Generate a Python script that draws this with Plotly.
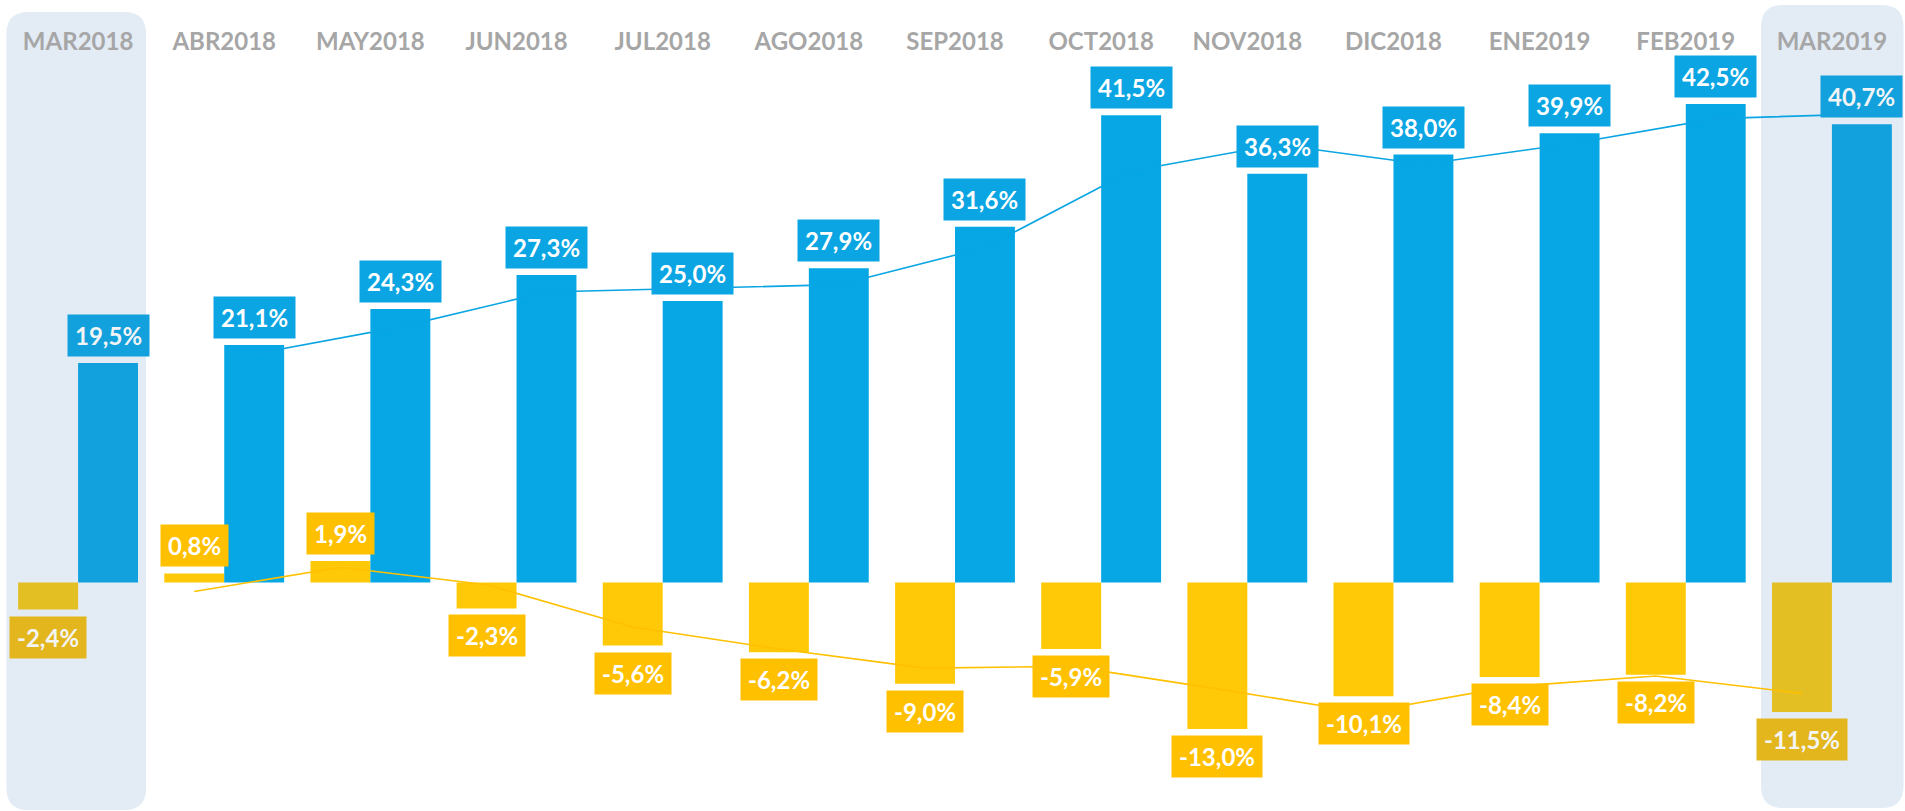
import plotly.graph_objects as go

months = ["MAR2018", "ABR2018", "MAY2018", "JUN2018", "JUL2018", "AGO2018", "SEP2018",
          "OCT2018", "NOV2018", "DIC2018", "ENE2019", "FEB2019", "MAR2019"]
blue_vals = [19.5, 21.1, 24.3, 27.3, 25.0, 27.9, 31.6, 41.5, 36.3, 38.0, 39.9, 42.5, 40.7]
yellow_vals = [-2.4, 0.8, 1.9, -2.3, -5.6, -6.2, -9.0, -5.9, -13.0, -10.1, -8.4, -8.2, -11.5]
# trend lines (2-period moving average), from ABR2018 to MAR2019
blue_trend = [20.3, 22.7, 25.8, 26.15, 26.45, 29.75, 36.55, 38.9, 37.15, 38.95, 41.2, 41.6]
yellow_trend = [-0.8, 1.35, -0.2, -3.95, -5.9, -7.6, -7.45, -9.45, -11.55, -9.25, -8.3, -9.85]
highlight = [0, 12]

W, H = 1905, 811
ML, MR = 5, 0
PX_PER = 11.26
BASE = 582.5
yr = [-(H - BASE) / PX_PER, BASE / PX_PER]

n = len(months)
idx = list(range(n))
BARGAP = 0.18
half = (1 - BARGAP) / 4  # offset of each bar center from category center

BLUE = "#06A7E4"
BLUE_H = "#12A1DC"
BLUE_LBL = "#0AA5E2"
YEL = "#FFC908"
YEL_H = "#E3BF24"
YEL_LBL = "#FFC000"
YEL_LBL_H = "#E4B61E"
BG_H = "#E3EBF5"

blue_colors = [BLUE_H if i in highlight else BLUE for i in idx]
yel_colors = [YEL_H if i in highlight else YEL for i in idx]

fig = go.Figure()
fig.add_trace(go.Bar(x=idx, y=yellow_vals, marker=dict(color=yel_colors, line=dict(width=0)),
                     name="b", showlegend=False, hoverinfo="skip"))
fig.add_trace(go.Bar(x=idx, y=blue_vals, marker=dict(color=blue_colors, line=dict(width=0)),
                     name="a", showlegend=False, hoverinfo="skip"))
fig.add_trace(go.Scatter(x=[i + half for i in idx[1:]], y=blue_trend, mode="lines",
                         line=dict(color=BLUE_LBL, width=1.6), showlegend=False, hoverinfo="skip"))
fig.add_trace(go.Scatter(x=[i - half for i in idx[1:]], y=yellow_trend, mode="lines",
                         line=dict(color=YEL_LBL, width=1.6), showlegend=False, hoverinfo="skip"))


def fmt(v):
    return f"{v:.1f}%".replace(".", ",")


annots = []
for i in idx:
    for v, xo, col in ((blue_vals[i], half, BLUE_H if i in highlight else BLUE_LBL),
                       (yellow_vals[i], -half, YEL_LBL_H if i in highlight else YEL_LBL)):
        pos = v >= 0
        annots.append(dict(
            x=i + xo, y=v, xref="x", yref="y", text=fmt(v), showarrow=False,
            xanchor="center", yanchor="bottom" if pos else "top",
            yshift=6 if pos else -6,
            bgcolor=col, borderpad=7, height=27,
            font=dict(family="Lato", size=24, color="#F2F4F5" if i in highlight else "white", weight=700),
        ))


def rrect(x0, x1, y0, y1, rx, ry):
    return (f"M {x0+rx},{y1} L {x1-rx},{y1} Q {x1},{y1} {x1},{y1-ry} "
            f"L {x1},{y0+ry} Q {x1},{y0} {x1-rx},{y0} L {x0+rx},{y0} "
            f"Q {x0},{y0} {x0},{y0+ry} L {x0},{y1-ry} Q {x0},{y1} {x0+rx},{y1} Z")


step = (W - ML - MR) / n
rx = 22 / step
ry = 22 / H
shapes = [
    dict(type="path", xref="x", yref="paper", layer="below", line=dict(width=0), fillcolor=BG_H,
         path=rrect(-0.49, 0.465, 1 - 810 / H, 1 - 12 / H, rx, ry)),
    dict(type="path", xref="x", yref="paper", layer="below", line=dict(width=0), fillcolor=BG_H,
         path=rrect(11.515, 12.49, 1 - 808 / H, 1 - 5 / H, rx, ry)),
]

fig.update_layout(
    width=W, height=H,
    margin=dict(l=ML, r=MR, t=0, b=0),
    paper_bgcolor="white", plot_bgcolor="rgba(0,0,0,0)",
    barmode="group", bargap=BARGAP, bargroupgap=0,
    showlegend=False,
    annotations=annots, shapes=shapes,
    xaxis=dict(range=[-0.5, n - 0.5], tickvals=idx, ticktext=months, side="top",
               ticklabelposition="inside", ticklabelstandoff=30, ticks="",
               showgrid=False, zeroline=False, showline=False,
               tickfont=dict(family="Lato", size=24, color="#A6A6A6", weight=700)),
    yaxis=dict(range=yr, visible=False, showgrid=False, zeroline=False),
)
fig.write_html("out.html", config={"displayModeBar": False},
               post_script="document.body.style.margin='0px';document.body.style.overflow='hidden';")
